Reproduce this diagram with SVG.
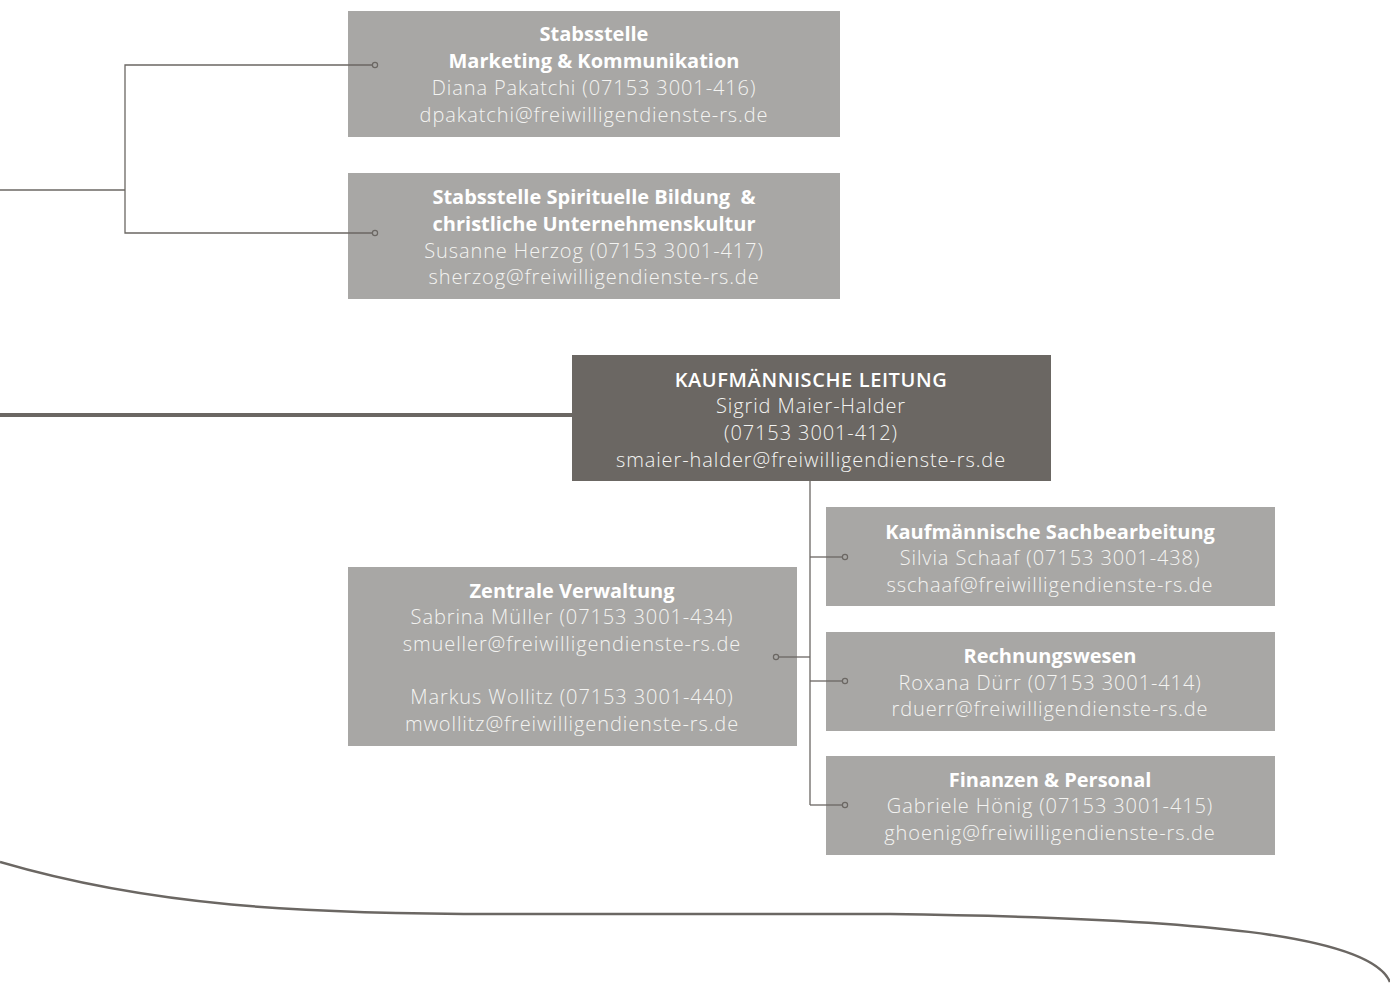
<svg xmlns="http://www.w3.org/2000/svg" width="1390" height="988" viewBox="0 0 1390 988">
<style>
.box{fill:#a8a7a5}
.dark{fill:#6b6763}
.t{font-family:"Open Sans","Liberation Sans",sans-serif;font-size:20px;fill:#f4f4f2;text-anchor:middle}
.b{font-weight:700;fill:#ffffff}
.m{font-weight:600;fill:#ffffff;letter-spacing:0.6px}
.l{font-weight:300;letter-spacing:0.9px}
.ln{fill:none;stroke:#6b6763;stroke-width:1.3}
.dot{fill:none;stroke:#6b6763;stroke-width:1.2}
</style>
<rect width="1390" height="988" fill="#ffffff"/>
<g id="marketing">
<rect class="box" x="348" y="11" width="492" height="126"/>
<text class="t b" x="594" y="41">Stabsstelle</text>
<text class="t b" x="594" y="68">Marketing &amp; Kommunikation</text>
<text class="t l" x="594" y="95">Diana Pakatchi (07153 3001-416)</text>
<text class="t l" x="594" y="122">dpakatchi@freiwilligendienste-rs.de</text>
</g>
<g id="spirituell">
<rect class="box" x="348" y="173" width="492" height="126"/>
<text class="t b" x="594" y="204">Stabsstelle Spirituelle Bildung&#160; &amp;</text>
<text class="t b" x="594" y="231">christliche Unternehmenskultur</text>
<text class="t l" x="594" y="258">Susanne Herzog (07153 3001-417)</text>
<text class="t l" x="594" y="284">sherzog@freiwilligendienste-rs.de</text>
</g>
<g id="leitung">
<rect class="dark" x="572" y="355" width="479" height="126"/>
<text class="t m" x="811" y="387">KAUFMÄNNISCHE LEITUNG</text>
<text class="t l" x="811" y="413">Sigrid Maier-Halder</text>
<text class="t l" x="811" y="440">(07153 3001-412)</text>
<text class="t l" x="811" y="467">smaier-halder@freiwilligendienste-rs.de</text>
</g>
<g id="zentrale">
<rect class="box" x="348" y="567" width="449" height="179"/>
<text class="t b" x="572" y="598">Zentrale Verwaltung</text>
<text class="t l" x="572" y="624">Sabrina Müller (07153 3001-434)</text>
<text class="t l" x="572" y="651">smueller@freiwilligendienste-rs.de</text>
<text class="t l" x="572" y="704">Markus Wollitz (07153 3001-440)</text>
<text class="t l" x="572" y="731">mwollitz@freiwilligendienste-rs.de</text>
</g>
<g id="sachbearbeitung">
<rect class="box" x="826" y="507" width="449" height="99"/>
<text class="t b" x="1050" y="539">Kaufmännische Sachbearbeitung</text>
<text class="t l" x="1050" y="565">Silvia Schaaf (07153 3001-438)</text>
<text class="t l" x="1050" y="592">sschaaf@freiwilligendienste-rs.de</text>
</g>
<g id="rechnungswesen">
<rect class="box" x="826" y="632" width="449" height="99"/>
<text class="t b" x="1050" y="663">Rechnungswesen</text>
<text class="t l" x="1050" y="690">Roxana Dürr (07153 3001-414)</text>
<text class="t l" x="1050" y="716">rduerr@freiwilligendienste-rs.de</text>
</g>
<g id="finanzen">
<rect class="box" x="826" y="756" width="449" height="99"/>
<text class="t b" x="1050" y="787">Finanzen &amp; Personal</text>
<text class="t l" x="1050" y="813">Gabriele Hönig (07153 3001-415)</text>
<text class="t l" x="1050" y="840">ghoenig@freiwilligendienste-rs.de</text>
</g>
<g id="connectors">
<polyline class="ln" points="0,190 125,190"/>
<polyline class="ln" points="372,65 125,65 125,233 372,233"/>
<circle class="dot" cx="375" cy="65" r="2.6"/>
<circle class="dot" cx="375" cy="233" r="2.6"/>
<line x1="0" y1="415" x2="572" y2="415" stroke="#6b6763" stroke-width="4"/>
<line class="ln" x1="810" y1="481" x2="810" y2="805"/>
<line class="ln" x1="810" y1="557" x2="842" y2="557"/>
<line class="ln" x1="810" y1="681" x2="842" y2="681"/>
<line class="ln" x1="810" y1="805" x2="842" y2="805"/>
<line class="ln" x1="779" y1="657" x2="810" y2="657"/>
<circle class="dot" cx="845" cy="557" r="2.6"/>
<circle class="dot" cx="845" cy="681" r="2.6"/>
<circle class="dot" cx="845" cy="805" r="2.6"/>
<circle class="dot" cx="776" cy="657" r="2.6"/>
<path d="M0,862 C150,906 300,914 500,914 L890,914 C1200,918 1370,935 1390,982" fill="none" stroke="#6b6763" stroke-width="2.5"/>
</g>
</svg>
